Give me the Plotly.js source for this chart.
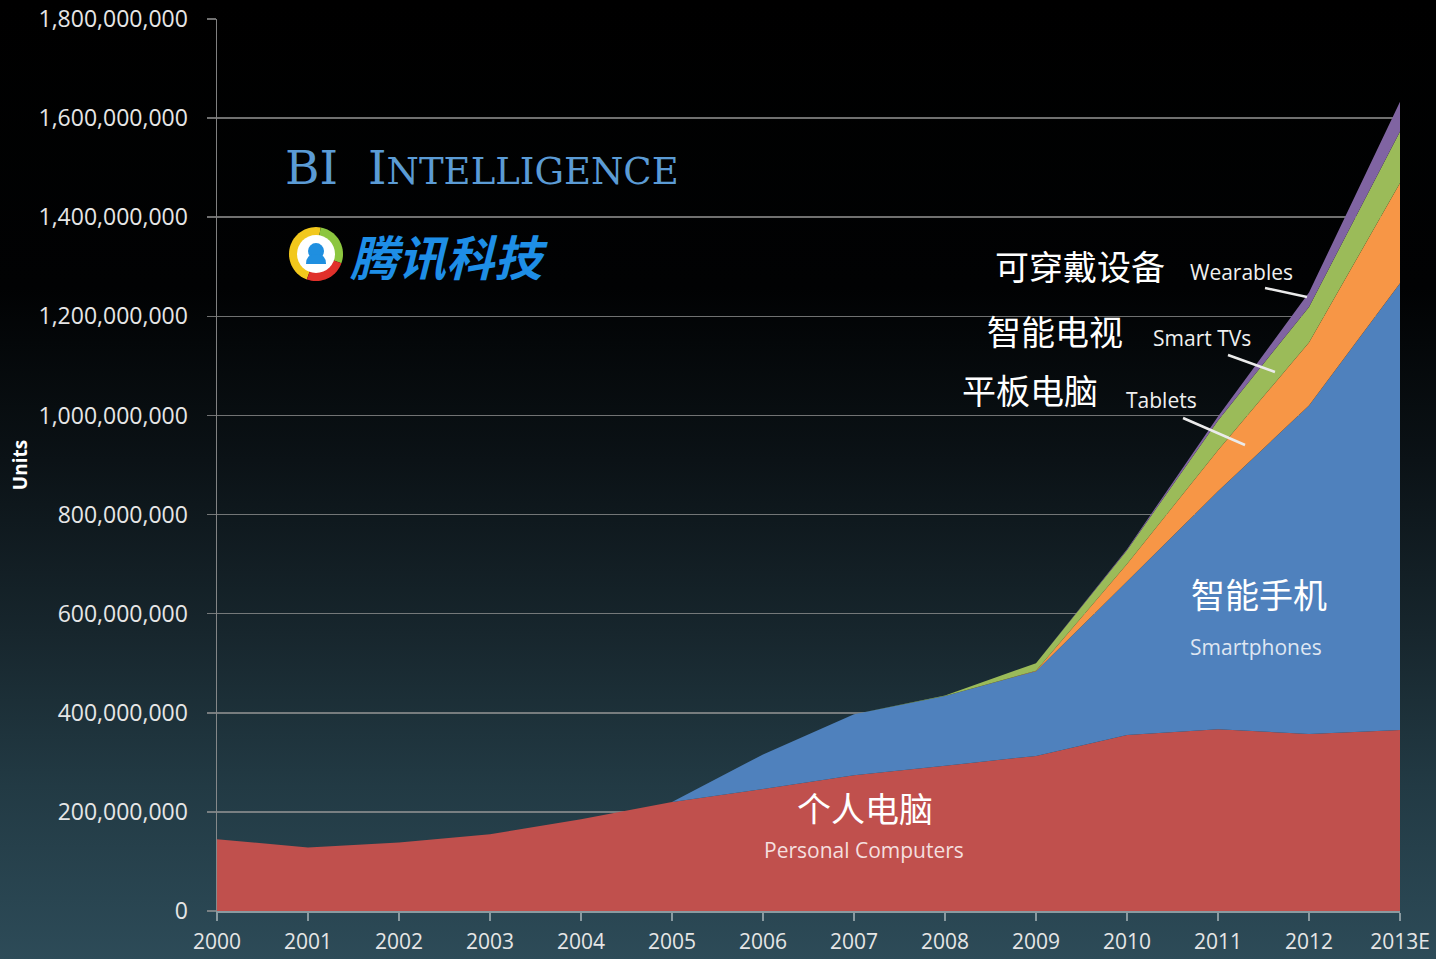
<!DOCTYPE html>
<html>
<head>
<meta charset="utf-8">
<script src="https://cdn.plot.ly/plotly-3.0.1.min.js"></script>
<style>
  html, body { margin: 0; padding: 0; }
  body { width: 1436px; height: 959px; overflow: hidden;
         background: linear-gradient(to bottom, #000000 0%, #010203 30%, #0b1216 48%, #17262d 66%, #223a44 82%, #2d4b58 100%); }
  #chart { width: 1436px; height: 959px; }
</style>
</head>
<body>
<div id="chart"></div>
<script>
// ---- data (units) ----
const years = [2000, 2001, 2002, 2003, 2004, 2005, 2006, 2007, 2008, 2009, 2010, 2011, 2012, 2013];
const yearLabels = ['2000', '2001', '2002', '2003', '2004', '2005', '2006', '2007', '2008', '2009', '2010', '2011', '2012', '2013E'];
const personalComputers = [145e6, 128e6, 138e6, 155e6, 185e6, 220e6, 246e6, 274e6, 293e6, 313e6, 355e6, 367e6, 357e6, 365e6];
const smartphones       = [0, 0, 0, 0, 0, 0, 70e6, 123e6, 141e6, 171e6, 310e6, 480e6, 663e6, 902e6];
const tablets           = [0, 0, 0, 0, 0, 0, 0, 0, 0, 1e6, 35e6, 83e6, 127e6, 202e6];
const smartTVs          = [0, 0, 0, 0, 0, 0, 0, 0, 1e6, 15e6, 28e6, 60e6, 72e6, 104e6];
const wearables         = [0, 0, 0, 0, 0, 0, 0, 0, 0, 0, 2e6, 8e6, 29e6, 60e6];
const yTicks = [0, 200e6, 400e6, 600e6, 800e6, 1000e6, 1200e6, 1400e6, 1600e6, 1800e6];

const seriesNames  = ['Personal Computers', 'Smartphones', 'Tablets', 'Smart TVs', 'Wearables'];
const seriesValues = [personalComputers, smartphones, tablets, smartTVs, wearables];
const seriesColors = ['#c0504d', '#4f81bd', '#f79646', '#9bbb59', '#8064a2'];

const traces = seriesValues.map((vals, i) => ({
  type: 'scatter', mode: 'lines', x: years, y: vals, name: seriesNames[i],
  stackgroup: 'devices', fillcolor: seriesColors[i],
  line: { width: 0, color: seriesColors[i] }, hoverinfo: 'skip'
}));

// ---- logo helper (decoration) ----
function wedge(a0, a1, r) {
  let p = 'M 0 0';
  for (let a = a0; a <= a1 + 0.001; a += 5) {
    const t = a * Math.PI / 180;
    p += ' L ' + (r * Math.cos(t)).toFixed(2) + ' ' + (r * Math.sin(t)).toFixed(2);
  }
  return p + ' Z';
}
const logoX = 0.0837, logoY = 0.7365;
function logoShape(path, color) {
  return { type: 'path', xref: 'paper', yref: 'paper', xsizemode: 'pixel', ysizemode: 'pixel',
           xanchor: logoX, yanchor: logoY, path: path, fillcolor: color, line: { width: 0 }, layer: 'above' };
}
function logoCircle(cx, cy, r, color) {
  return { type: 'circle', xref: 'paper', yref: 'paper', xsizemode: 'pixel', ysizemode: 'pixel',
           xanchor: logoX, yanchor: logoY, x0: cx - r, x1: cx + r, y0: cy - r, y1: cy + r,
           fillcolor: color, line: { width: 0 }, layer: 'above' };
}

const shapes = [
  logoShape(wedge(80, 250, 27), '#f2c81c'),
  logoShape(wedge(-20, 80, 27), '#8cc63f'),
  logoShape(wedge(250, 340, 27), '#e0302a'),
  logoCircle(0, 0, 19, '#ffffff'),
  logoCircle(0, 3, 8, '#1f8fe0'),
  { type: 'path', xref: 'paper', yref: 'paper', xsizemode: 'pixel', ysizemode: 'pixel',
    xanchor: logoX, yanchor: logoY, path: 'M -10 -10 Q -10 0 0 0 Q 10 0 10 -10 Z',
    fillcolor: '#1f8fe0', line: { width: 0 }, layer: 'above' },
  // leader lines
  { type: 'line', xref: 'paper', yref: 'paper', x0: 0.8859, y0: 0.6984, x1: 0.9214, y1: 0.6883,
    line: { color: '#ebebeb', width: 2.5 } },
  { type: 'line', xref: 'paper', yref: 'paper', x0: 0.8546, y0: 0.6233, x1: 0.8943, y1: 0.6043,
    line: { color: '#ebebeb', width: 2.5 } },
  { type: 'line', xref: 'paper', yref: 'paper', x0: 0.8166, y0: 0.5527, x1: 0.8690, y1: 0.5224,
    line: { color: '#ebebeb', width: 2.5 } }
];

const cjk = '"Noto Sans CJK SC", "Noto Sans", sans-serif';
const latin = '"Open Sans", "Noto Sans", sans-serif';
function ann(text, x, y, size, color, family, extra) {
  return Object.assign({ text: text, x: x, y: y, xref: 'paper', yref: 'paper', showarrow: false,
    xanchor: 'center', yanchor: 'middle', font: { size: size, color: color, family: family } }, extra || {});
}

const annotations = [
  ann('BI&nbsp;&nbsp;I<span style="font-size:37px">NTELLIGENCE</span>', 0.0558, 0.8330, 47, '#5b9bd5',
      '"DejaVu Serif", "Liberation Serif", serif', { xanchor: 'left' }),
  ann('<b><i>腾讯科技</i></b>', 0.1107, 0.7354, 48, '#1e8ee6', cjk, { xanchor: 'left' }),
  ann('可穿戴设备', 0.7295, 0.7231, 34, '#ffffff', cjk),
  ann('Wearables', 0.8656, 0.7164, 21, '#f0f0f0', latin),
  ann('智能电视', 0.7084, 0.6513, 34, '#ffffff', cjk),
  ann('Smart TVs', 0.8326, 0.6424, 21, '#f0f0f0', latin),
  ann('平板电脑', 0.6872, 0.5841, 34, '#ffffff', cjk),
  ann('Tablets', 0.7988, 0.5729, 21, '#f0f0f0', latin),
  ann('智能手机', 0.8808, 0.3565, 34, '#ffffff', cjk),
  ann('Smartphones', 0.8783, 0.2960, 21, '#dfe6f2', latin),
  ann('个人电脑', 0.5478, 0.1155, 34, '#ffffff', cjk),
  ann('Personal Computers', 0.5469, 0.0684, 21, '#f4dfdf', latin)
];

const layout = {
  width: 1436, height: 959,
  margin: { l: 217, r: 36, t: 19, b: 48 },
  paper_bgcolor: 'rgba(0,0,0,0)', plot_bgcolor: 'rgba(0,0,0,0)',
  showlegend: false,
  xaxis: {
    range: [2000, 2013], tickmode: 'array', tickvals: years, ticktext: yearLabels,
    showgrid: false, zeroline: false, showline: true, linecolor: '#8a9aa0', linewidth: 1.5,
    ticks: 'outside', ticklen: 8, tickcolor: '#8a9aa0', tickwidth: 1.5,
    ticklabelstandoff: 3,
    tickfont: { family: latin, size: 21, color: '#e6e6e6' }, fixedrange: true
  },
  yaxis: {
    range: [0, 1800e6], tickmode: 'array', tickvals: yTicks, tickformat: ',d',
    showgrid: true, gridcolor: 'rgba(150,150,150,0.75)', gridwidth: 1.5, zeroline: false,
    showline: true, linecolor: 'rgba(150,150,150,0.85)', linewidth: 1.5,
    ticks: 'outside', ticklen: 9, tickcolor: 'rgba(150,150,150,0.75)', tickwidth: 1.5,
    ticklabelstandoff: 14,
    tickfont: { family: latin, size: 23, color: '#e6e6e6' },
    title: { text: '<b>Units</b>', font: { family: latin, size: 19, color: '#ffffff' }, standoff: 6 },
    fixedrange: true
  },
  shapes: shapes,
  annotations: annotations
};

Plotly.newPlot('chart', traces, layout, { displayModeBar: false, staticPlot: true });
</script>
</body>
</html>
